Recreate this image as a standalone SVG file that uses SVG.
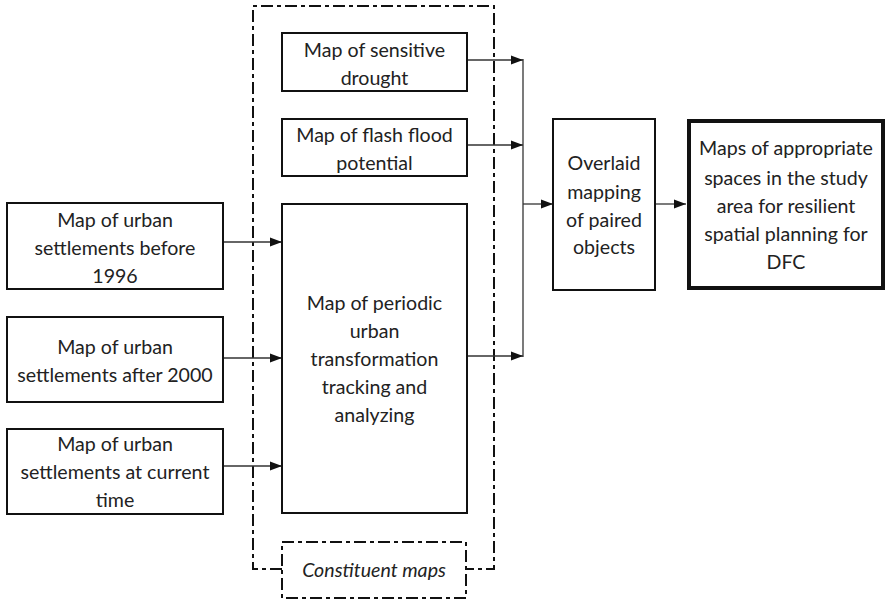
<svg xmlns="http://www.w3.org/2000/svg" width="887" height="599" viewBox="0 0 887 599">
<defs>
<style>
.box{fill:#fff;stroke:#111;stroke-width:2}
.thick{fill:#fff;stroke:#111;stroke-width:4}
.dash{fill:none;stroke:#111;stroke-width:2;stroke-dasharray:12 4 4 4}
.t{font-family:Lato,"Liberation Sans",sans-serif;font-size:19.6px;fill:#222;text-anchor:middle}
.i{font-style:italic}
.c{fill:none;stroke:#333;stroke-width:1.3}
</style>
<marker id="ah" markerUnits="userSpaceOnUse" markerWidth="13" markerHeight="11" refX="12" refY="5.5" orient="auto">
<path d="M0,1 L12,5.5 L0,10 Z" fill="#111"/>
</marker>
</defs>
<rect width="887" height="599" fill="#fff"/>
<g id="constituent-group">
<path class="dash" d="M282,569 L253,569 L253,6 L494,6 L494,569 L466,569"/>
</g>
<g id="constituent-label">
<rect class="dash" x="282" y="542" width="184" height="56"/>
<text class="t i" x="374" y="577">Constituent maps</text>
</g>
<g id="connectors">
<line class="c" x1="467" y1="60" x2="523" y2="60" marker-end="url(#ah)"/>
<line class="c" x1="467" y1="145" x2="523" y2="145" marker-end="url(#ah)"/>
<line class="c" x1="467" y1="356" x2="523" y2="356" marker-end="url(#ah)"/>
<line class="c" x1="523" y1="59" x2="523" y2="357"/>
<line class="c" x1="523" y1="204" x2="553" y2="204" marker-end="url(#ah)"/>
<line class="c" x1="655" y1="204" x2="686" y2="204" marker-end="url(#ah)"/>
<line class="c" x1="223" y1="242" x2="282" y2="242" marker-end="url(#ah)"/>
<line class="c" x1="223" y1="358" x2="282" y2="358" marker-end="url(#ah)"/>
<line class="c" x1="223" y1="466" x2="282" y2="466" marker-end="url(#ah)"/>
</g>
<g id="drought">
<rect class="box" x="282" y="33" width="185" height="58"/>
<text class="t" x="374.5" y="57">Map of sensitive</text>
<text class="t" x="374.5" y="85">drought</text>
</g>
<g id="flood">
<rect class="box" x="282" y="119" width="185" height="57"/>
<text class="t" x="374.5" y="142">Map of flash flood</text>
<text class="t" x="374.5" y="170">potential</text>
</g>
<g id="periodic">
<rect class="box" x="282" y="204" width="185" height="309"/>
<text class="t" x="374.5" y="310">Map of periodic</text>
<text class="t" x="374.5" y="338">urban</text>
<text class="t" x="374.5" y="366">transformation</text>
<text class="t" x="374.5" y="394">tracking and</text>
<text class="t" x="374.5" y="422">analyzing</text>
</g>
<g id="before1996">
<rect class="box" x="7" y="203" width="216" height="86"/>
<text class="t" x="115" y="227">Map of urban</text>
<text class="t" x="115" y="255">settlements before</text>
<text class="t" x="115" y="283">1996</text>
</g>
<g id="after2000">
<rect class="box" x="7" y="317" width="216" height="85"/>
<text class="t" x="115" y="354">Map of urban</text>
<text class="t" x="115" y="382">settlements after 2000</text>
</g>
<g id="current">
<rect class="box" x="7" y="429" width="216" height="85"/>
<text class="t" x="115" y="451">Map of urban</text>
<text class="t" x="115" y="479">settlements at current</text>
<text class="t" x="115" y="507">time</text>
</g>
<g id="overlaid">
<rect class="box" x="553" y="119" width="102" height="171"/>
<text class="t" x="604" y="170">Overlaid</text>
<text class="t" x="604" y="199">mapping</text>
<text class="t" x="604" y="227">of paired</text>
<text class="t" x="604" y="254">objects</text>
</g>
<g id="result">
<rect class="thick" x="689" y="121" width="194" height="167"/>
<text class="t" x="786" y="155">Maps of appropriate</text>
<text class="t" x="786" y="185">spaces in the study</text>
<text class="t" x="786" y="213">area for resilient</text>
<text class="t" x="786" y="241">spatial planning for</text>
<text class="t" x="786" y="269">DFC</text>
</g>
</svg>
